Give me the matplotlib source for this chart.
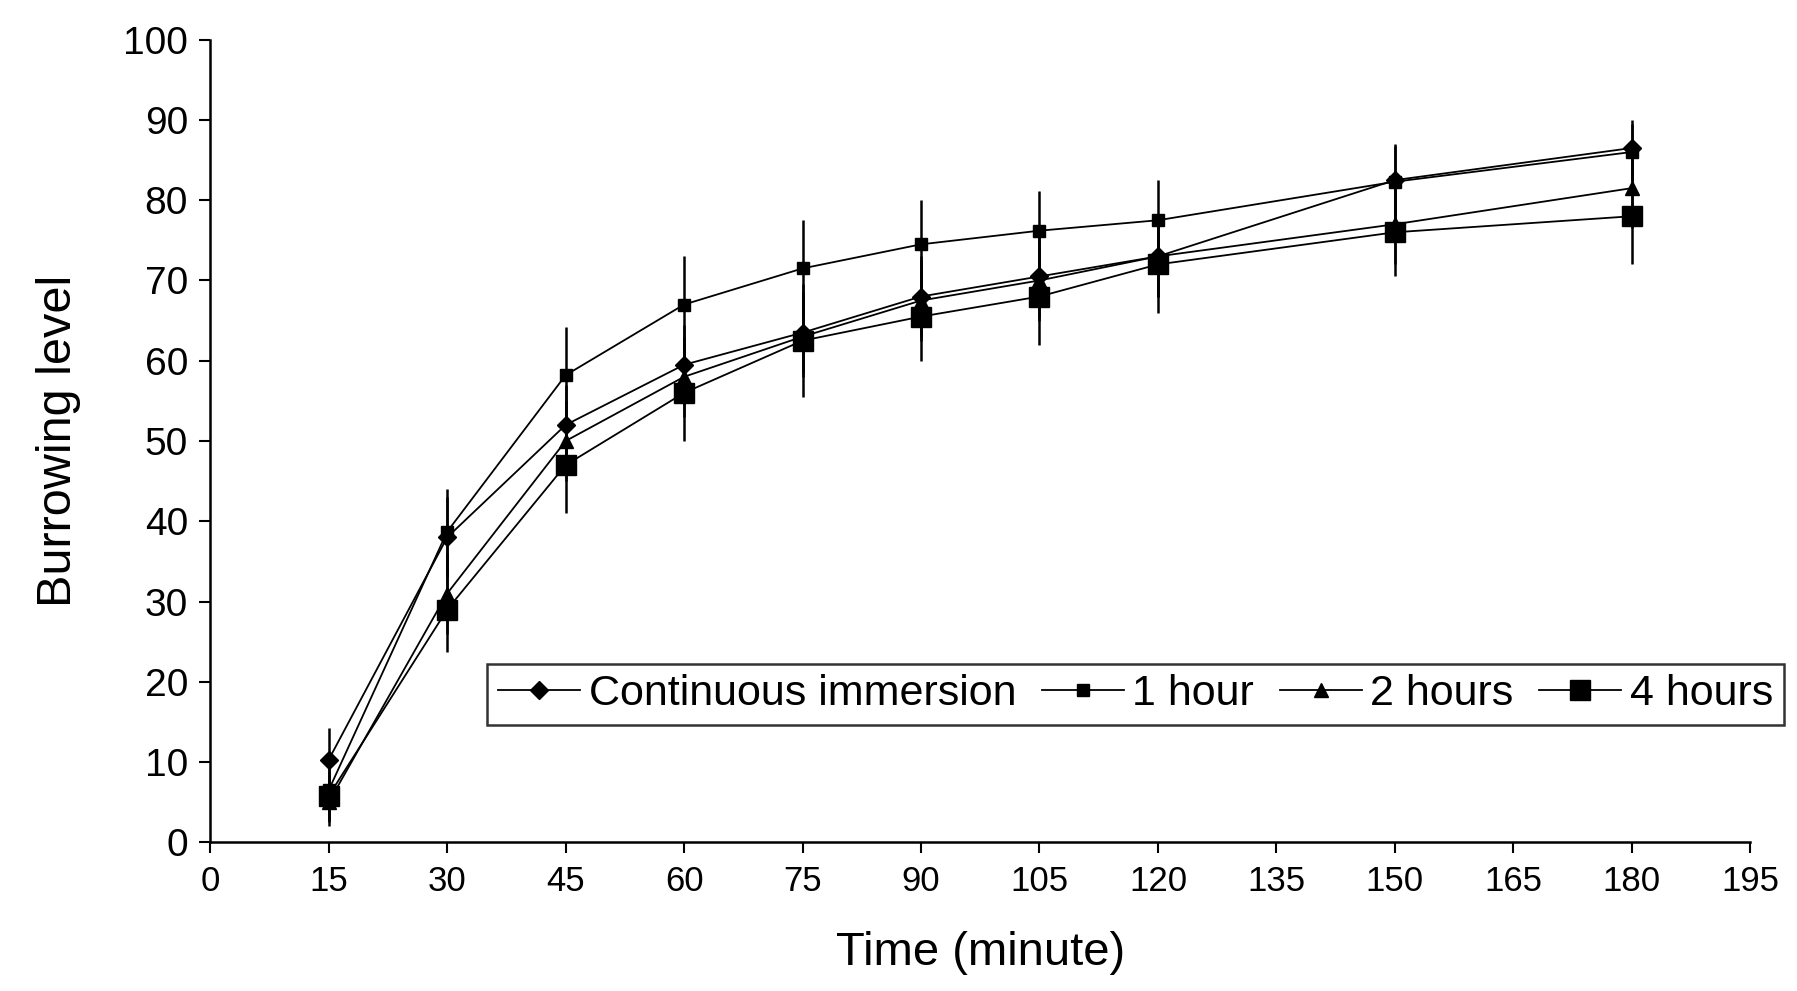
import numpy as np
import matplotlib.pyplot as plt

plt.rcParams['font.family'] = ['Liberation Sans', 'DejaVu Sans']

# time points (minute)
time = [15, 30, 45, 60, 75, 90, 105, 120, 150, 180]

# mean burrowing level for each treatment
continuous = [10.3, 38.0, 52.0, 59.5, 63.5, 68.0, 70.5, 73.0, 82.5, 86.5]
one_hour = [6.5, 38.7, 58.2, 67.0, 71.5, 74.5, 76.2, 77.5, 82.3, 86.0]
two_hours = [5.0, 31.0, 50.0, 58.0, 63.0, 67.5, 70.0, 73.0, 77.0, 81.5]
four_hours = [5.8, 29.0, 47.0, 56.0, 62.5, 65.5, 68.0, 72.0, 76.0, 78.0]

# standard deviations
continuous_sd = [4.0, 5.0, 5.0, 5.0, 5.0, 5.0, 5.0, 5.0, 4.5, 3.5]
one_hour_sd = [4.0, 5.3, 6.0, 6.0, 6.0, 5.5, 5.0, 5.0, 4.5, 3.5]
two_hours_sd = [3.0, 5.0, 5.0, 5.0, 5.0, 5.0, 5.0, 5.0, 5.0, 5.0]
four_hours_sd = [3.0, 5.3, 6.0, 6.0, 7.0, 5.5, 6.0, 6.0, 5.5, 6.0]

fig = plt.figure(figsize=(17.97, 9.91), dpi=100)
ax = fig.add_axes([0.117, 0.150, 0.857, 0.810])

series = [
    (continuous, continuous_sd, "Continuous immersion", "D", 9),
    (one_hour, one_hour_sd, "1 hour", "s", 9),
    (two_hours, two_hours_sd, "2 hours", "^", 10),
    (four_hours, four_hours_sd, "4 hours", "s", 15),
]
for y, sd, lab, m, ms in series:
    # error bars drawn on their own so the legend shows only line + marker
    ax.errorbar(time, y, yerr=sd, fmt="none", ecolor="black",
                elinewidth=1.8, capsize=0)
    ax.plot(time, y, color="black", lw=1.3, marker=m, markersize=ms,
            mfc="black", mec="black", label=lab)

ax.set_xlim(0, 195)
ax.set_ylim(0, 100)
ax.set_xticks(np.arange(0, 196, 15))
ax.set_yticks(np.arange(0, 101, 10))
ax.spines["top"].set_visible(False)
ax.spines["right"].set_visible(False)
ax.spines["left"].set_linewidth(1.8)
ax.spines["bottom"].set_linewidth(1.8)
ax.tick_params(direction="out", length=8, width=1.5, labelsize=25, pad=8)
ax.tick_params(axis="y", labelsize=28, pad=8)

ax.set_xlabel("Time (minute)", fontsize=34, labelpad=24)
ax.set_ylabel("Burrowing level", fontsize=35, labelpad=30)

leg = ax.legend(loc="lower left", bbox_to_anchor=(0.18, 0.146), ncol=4,
                fontsize=31, frameon=True, fancybox=False, handlelength=1.9,
                handletextpad=0.2, columnspacing=0.6, borderpad=0.25,
                borderaxespad=0)
leg.get_frame().set_edgecolor("black")
leg.get_frame().set_linewidth(1.8)
leg.set_clip_on(False)

fig.savefig("out.png", dpi=100)
